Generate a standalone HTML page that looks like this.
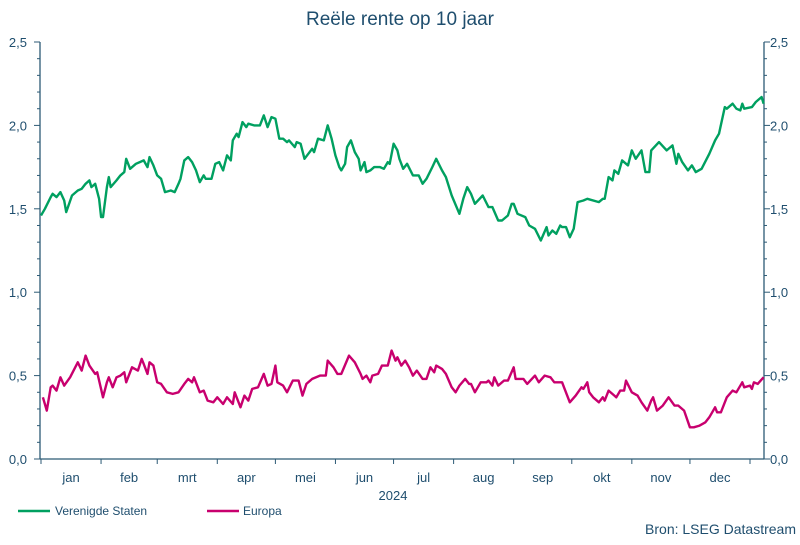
<!DOCTYPE html>
<html><head><meta charset="utf-8"><style>
body{margin:0;background:#fff;}
svg text{font-family:"Liberation Sans",sans-serif;fill:#1f4e6e;}
</style></head><body>
<svg width="800" height="540" viewBox="0 0 800 540" id="chart">
<text x="400" y="25" text-anchor="middle" font-size="19">Reële rente op 10 jaar</text>
<g id="axes"></g>
<g id="series"></g>
<g>
<line x1="18" y1="511" x2="50" y2="511" stroke="#00a060" stroke-width="2.5"/>
<text x="55" y="515" font-size="12">Verenigde Staten</text>
<line x1="207" y1="511" x2="239" y2="511" stroke="#c8006e" stroke-width="2.5"/>
<text x="243" y="515" font-size="12">Europa</text>
</g>
<text x="796" y="534" text-anchor="end" font-size="14">Bron: LSEG Datastream</text>
</svg>
<script>
const usDays=[0,2,5,6,8,10,12,13,16,19,21,23,25,26,28,30,31,32,34,35,36,39,41,43,44,46,49,51,53,55,56,58,60,62,64,67,69,71,72,74,76,78,80,82,84,85,88,90,92,94,96,98,99,101,102,104,106,107,110,113,115,117,119,121,123,125,127,128,131,132,134,136,138,140,141,143,146,148,150,152,154,155,157,158,160,162,164,165,167,168,170,172,175,177,179,180,182,184,185,187,189,192,195,197,199,202,204,207,209,212,216,218,220,222,224,228,231,233,236,238,241,243,244,246,250,252,255,258,261,262,264,266,268,269,271,273,275,277,280,282,288,290,291,293,295,296,298,300,303,305,307,310,312,314,315,319,323,326,328,329,331,334,336,338,341,345,348,350,353,354,357,359,361,362,363,367,369,372,373];
const usValues=[1.46,1.50,1.57,1.59,1.57,1.60,1.55,1.48,1.58,1.61,1.62,1.65,1.67,1.63,1.65,1.56,1.45,1.45,1.63,1.69,1.63,1.67,1.70,1.72,1.80,1.74,1.77,1.78,1.79,1.75,1.81,1.76,1.70,1.68,1.60,1.61,1.60,1.65,1.68,1.79,1.81,1.78,1.73,1.66,1.70,1.68,1.68,1.77,1.78,1.73,1.82,1.79,1.91,1.95,1.93,2.02,1.99,2.01,2.00,2.00,2.06,1.99,2.05,2.04,1.92,1.92,1.90,1.91,1.87,1.90,1.89,1.80,1.83,1.86,1.84,1.92,1.91,2.00,1.92,1.82,1.75,1.73,1.77,1.87,1.91,1.84,1.80,1.73,1.78,1.72,1.73,1.75,1.75,1.74,1.78,1.77,1.89,1.85,1.80,1.74,1.77,1.70,1.70,1.65,1.68,1.75,1.80,1.73,1.69,1.58,1.47,1.56,1.63,1.59,1.53,1.58,1.51,1.51,1.43,1.43,1.46,1.53,1.53,1.47,1.45,1.40,1.38,1.31,1.39,1.34,1.37,1.35,1.40,1.39,1.39,1.33,1.38,1.54,1.55,1.56,1.54,1.56,1.56,1.69,1.67,1.73,1.71,1.79,1.76,1.85,1.80,1.85,1.72,1.72,1.85,1.90,1.85,1.88,1.77,1.83,1.78,1.73,1.76,1.72,1.74,1.83,1.91,1.95,2.11,2.10,2.13,2.10,2.09,2.13,2.10,2.11,2.14,2.17,2.13];
const euDays=[1,3,5,6,8,10,12,15,19,21,23,25,28,29,32,34,35,37,39,41,43,44,47,50,52,53,55,56,58,60,62,65,68,71,74,76,78,79,82,84,86,89,91,94,96,99,100,103,105,107,109,112,115,117,119,121,122,125,127,130,133,135,137,140,144,147,148,151,153,155,159,162,165,166,168,170,171,174,176,179,181,183,184,186,188,190,192,194,197,199,201,203,204,207,209,212,214,216,219,221,222,224,227,230,231,233,234,236,239,241,244,245,249,251,255,257,260,263,265,269,270,273,276,279,280,282,283,285,288,290,291,293,296,297,299,301,302,305,308,310,313,315,316,318,321,324,327,329,332,335,337,340,343,345,348,349,351,354,357,359,362,363,366,367,368,370,373];
const euValues=[0.37,0.29,0.43,0.44,0.41,0.49,0.44,0.49,0.58,0.53,0.62,0.56,0.51,0.52,0.37,0.46,0.49,0.43,0.49,0.50,0.52,0.46,0.55,0.53,0.60,0.57,0.51,0.58,0.56,0.46,0.45,0.40,0.39,0.40,0.45,0.48,0.46,0.49,0.40,0.41,0.35,0.34,0.37,0.33,0.37,0.33,0.40,0.31,0.38,0.35,0.42,0.43,0.51,0.44,0.45,0.56,0.46,0.44,0.40,0.47,0.47,0.38,0.45,0.48,0.50,0.50,0.59,0.55,0.51,0.51,0.62,0.58,0.51,0.48,0.50,0.46,0.50,0.51,0.56,0.56,0.65,0.59,0.61,0.56,0.59,0.55,0.50,0.53,0.48,0.48,0.55,0.52,0.56,0.54,0.51,0.43,0.40,0.44,0.48,0.45,0.45,0.40,0.46,0.46,0.47,0.44,0.49,0.44,0.47,0.47,0.55,0.48,0.48,0.45,0.50,0.46,0.50,0.49,0.46,0.46,0.43,0.34,0.38,0.43,0.42,0.46,0.40,0.37,0.34,0.37,0.35,0.41,0.38,0.37,0.41,0.41,0.47,0.40,0.38,0.34,0.29,0.35,0.37,0.29,0.32,0.37,0.32,0.32,0.29,0.19,0.19,0.20,0.22,0.25,0.31,0.28,0.28,0.37,0.41,0.40,0.46,0.43,0.44,0.42,0.46,0.45,0.49];
const monthLabels=["jan","feb","mrt","apr","mei","jun","jul","aug","sep","okt","nov","dec"];
const monthStarts=[0,31,60,91,121,152,182,213,244,274,305,335,366];
const yTickLabels=["0,0","0,5","1,0","1,5","2,0","2,5"];
const yTickValues=[0,0.5,1.0,1.5,2.0,2.5];

const X0=41,PXD=709/366,AX_L=40,AX_R=764,Y0=459,Y1=42,VMAX=2.5;
const xs=d=>X0+d*PXD;
const ys=v=>Y0-(v/VMAX)*(Y0-Y1);
const NS="http://www.w3.org/2000/svg";
function mk(tag,attrs,parent){const e=document.createElementNS(NS,tag);for(const k in attrs)e.setAttribute(k,attrs[k]);parent.appendChild(e);return e;}
const ax=document.getElementById('axes');
const C="#2c5a75";
let l=mk('line',{x1:AX_L,y1:Y1,x2:AX_L,y2:Y0,stroke:C,'stroke-width':1.3},ax);


l=mk('line',{x1:AX_R,y1:Y1,x2:AX_R,y2:Y0,stroke:C,'stroke-width':1.3},ax);


l=mk('line',{x1:AX_L,y1:Y0,x2:AX_R,y2:Y0,stroke:C,'stroke-width':1.3},ax);


for(let i=0;i<=25;i++){const v=i/10,y=ys(v),maj=i%5===0;
 mk('line',{x1:AX_L-(maj?6:3),y1:y,x2:AX_L,y2:y,stroke:C,'stroke-width':1},ax);
 mk('line',{x1:AX_R,y1:y,x2:AX_R+(maj?6:3),y2:y,stroke:C,'stroke-width':1},ax);}
yTickLabels.forEach((t,i)=>{const y=ys(yTickValues[i])+5;
 let a=mk('text',{x:27,y:y,'text-anchor':'end','font-size':13},ax);a.textContent=t;
 
 
 let b=mk('text',{x:770,y:y,'font-size':13},ax);b.textContent=t;
 
 });
monthStarts.forEach(d=>{mk('line',{x1:xs(d),y1:Y0,x2:xs(d),y2:Y0+5,stroke:C,'stroke-width':1},ax);});
monthLabels.forEach((m,i)=>{const t=mk('text',{x:(xs(monthStarts[i])+xs(monthStarts[i+1]))/2,y:482,'text-anchor':'middle','font-size':13},ax);t.textContent=m;
 
 });
const yr=mk('text',{x:393,y:500,'text-anchor':'middle','font-size':13},ax);yr.textContent="2024";


const sg=document.getElementById('series');
function line(days,vals,color,name){const d=days.map((dd,i)=>(i?'L':'M')+xs(dd).toFixed(1)+','+ys(vals[i]).toFixed(1)).join('');
 const p=mk('path',{d:d,fill:'none',stroke:color,'stroke-width':2.4,'stroke-linejoin':'round'},sg);
 
 }
line(usDays,usValues,'#00a060','series-verenigde-staten');
line(euDays,euValues,'#c8006e','series-europa');
</script>
</body></html>
